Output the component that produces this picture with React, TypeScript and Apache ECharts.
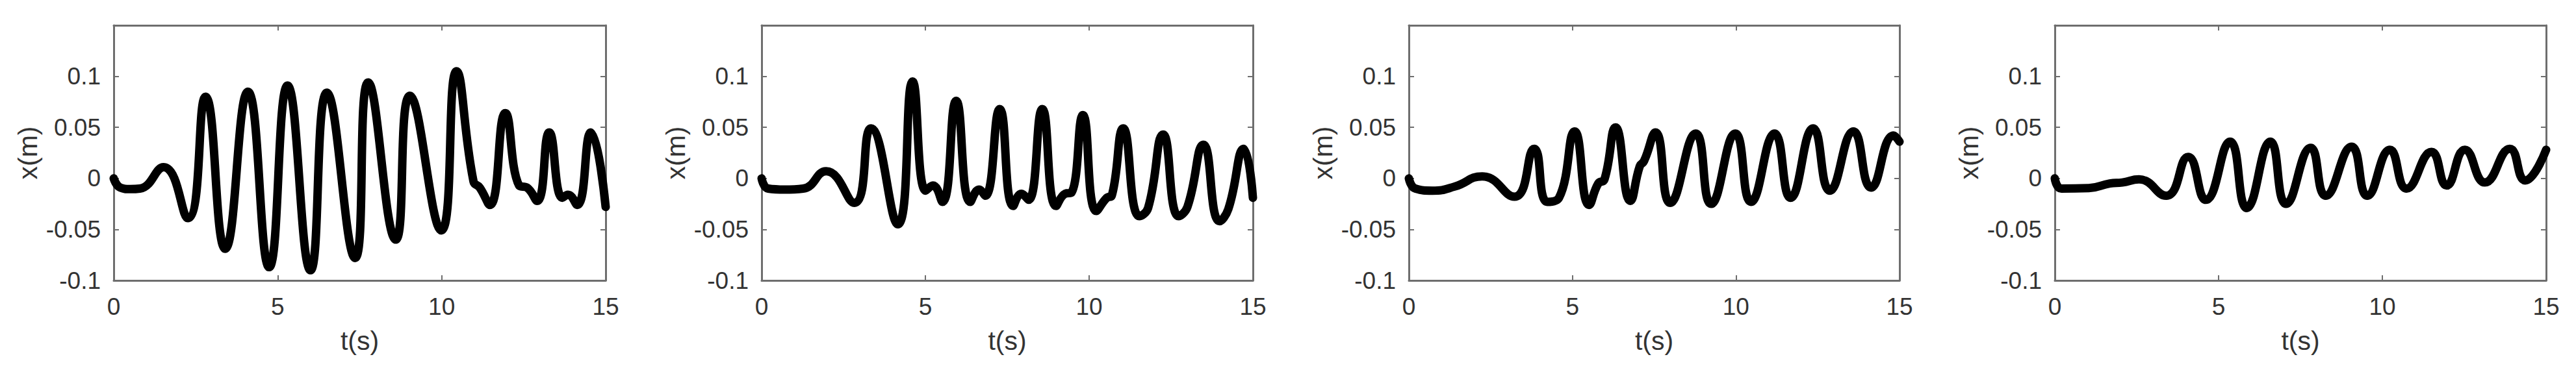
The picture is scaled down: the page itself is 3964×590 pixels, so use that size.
import React, { useEffect, useRef } from "react";
import * as echarts from "echarts";

// ---- data ----
const T1 = [0, 0.2, 0.5, 0.8, 1.52, 2.26, 2.8, 3.4, 4.09, 4.74, 5.3, 6.0, 6.5, 7.36, 7.76, 8.6, 9.03, 9.99, 10.45, 10.97, 11.16, 11.47, 11.94, 12.36, 12.6, 12.91, 13.28, 13.68, 13.85, 14.13, 14.55, 15];
const X1 = [0, -0.009, -0.0105, -0.01, 0.011, -0.039, 0.08, -0.069, 0.085, -0.087, 0.091, -0.09, 0.084, -0.078, 0.094, -0.06, 0.081, -0.051, 0.105, -0.003, -0.009, -0.026, 0.064, -0.007, -0.009, -0.022, 0.045, -0.019, -0.016, -0.026, 0.045, -0.028];

const T2 = [0, 0.2, 0.7, 1.27, 1.97, 2.83, 3.34, 4.16, 4.61, 5.01, 5.23, 5.52, 5.94, 6.37, 6.64, 6.83, 7.27, 7.68, 7.93, 8.15, 8.57, 8.99, 9.27, 9.46, 9.81, 10.22, 10.54, 10.69, 11.04, 11.53, 11.8, 12.26, 12.73, 13.0, 13.49, 13.98, 14.25, 14.72, 15];
const X2 = [0, -0.01, -0.011, -0.01, 0.007, -0.024, 0.049, -0.045, 0.095, -0.012, -0.007, -0.023, 0.076, -0.023, -0.011, -0.017, 0.068, -0.027, -0.015, -0.021, 0.068, -0.027, -0.015, -0.014, 0.062, -0.032, -0.019, -0.017, 0.049, -0.037, -0.029, 0.043, -0.037, -0.028, 0.033, -0.042, -0.03, 0.029, -0.019];

const T3 = [0, 0.2, 0.72, 1.4, 2.24, 3.23, 3.83, 4.23, 4.59, 5.07, 5.51, 5.79, 5.98, 6.32, 6.77, 7.06, 7.19, 7.54, 7.99, 8.77, 9.24, 9.98, 10.46, 11.18, 11.67, 12.36, 12.87, 13.59, 14.13, 14.82, 15];
const X3 = [0, -0.01, -0.012, -0.008, 0.002, -0.018, 0.029, -0.023, -0.019, 0.046, -0.026, -0.005, -0.001, 0.05, -0.022, 0.012, 0.017, 0.045, -0.024, 0.044, -0.025, 0.044, -0.023, 0.044, -0.019, 0.049, -0.012, 0.046, -0.009, 0.042, 0.036];

const T4 = [0, 0.2, 1.04, 1.68, 2.06, 2.57, 3.4, 4.07, 4.61, 5.35, 5.86, 6.58, 7.06, 7.81, 8.27, 9.06, 9.54, 10.23, 10.74, 11.5, 11.96, 12.52, 13.13, 13.89, 14.36, 15];
const X4 = [0, -0.01, -0.0095, -0.005, -0.004, -0.001, -0.017, 0.021, -0.021, 0.036, -0.029, 0.036, -0.025, 0.03, -0.017, 0.031, -0.017, 0.028, -0.01, 0.026, -0.007, 0.028, -0.004, 0.029, -0.002, 0.028];

const X_TICKS = [0, 5, 10, 15];
const X_TICK_LABELS = ["0", "5", "10", "15"];
const Y_TICKS = [-0.1, -0.05, 0, 0.05, 0.1];
const Y_TICK_LABELS = ["-0.1", "-0.05", "0", "0.05", "0.1"];
const X_NAME = "t(s)";
const Y_NAME = "x(m)";

const PANELS = [
  { t: T1, x: X1 },
  { t: T2, x: X2 },
  { t: T3, x: X3 },
  { t: T4, x: X4 },
];

// ---- layout / style ----
const LEFTS = [175, 1172, 2168, 3162];
const WIDTHS = [757, 756, 755, 756];
const TOP = 39;
const HEIGHT = 393;
const AXIS_COLOR = "#6e6e6e";
const TEXT_COLOR = "#333333";
const FONT = "'Liberation Sans', Arial, Helvetica, sans-serif";

function labelFor(ticks: number[], labels: string[]) {
  return (v: number) => {
    for (let i = 0; i < ticks.length; i++) {
      if (Math.abs(v - ticks[i]) < 1e-9) return labels[i];
    }
    return "";
  };
}

export default function App() {
  const ref = useRef<HTMLDivElement>(null);
  useEffect(() => {
    if (!ref.current) return;
    const chart = echarts.init(ref.current, undefined, { renderer: "svg" });
    const grid: any[] = [];
    const xAxis: any[] = [];
    const yAxis: any[] = [];
    const series: any[] = [];
    const axisLine = { show: true, onZero: false, lineStyle: { color: AXIS_COLOR, width: 3 } };
    const axisTick = { show: true, inside: true, length: 8, lineStyle: { color: AXIS_COLOR, width: 2 } };
    PANELS.forEach((p, i) => {
      grid.push({ left: LEFTS[i], top: TOP, width: WIDTHS[i], height: HEIGHT });
      xAxis.push({
        gridIndex: i, type: "value", min: 0, max: 15, interval: 5, position: "bottom",
        name: X_NAME, nameLocation: "middle", nameGap: 72,
        nameTextStyle: { fontSize: 41, color: TEXT_COLOR, fontFamily: FONT },
        axisLine, axisTick,
        axisLabel: { fontSize: 37, color: TEXT_COLOR, fontFamily: FONT, margin: 22, formatter: labelFor(X_TICKS, X_TICK_LABELS) },
        splitLine: { show: false },
      });
      xAxis.push({
        gridIndex: i, type: "value", min: 0, max: 15, interval: 5, position: "top",
        axisLine, axisTick, axisLabel: { show: false }, splitLine: { show: false },
      });
      yAxis.push({
        gridIndex: i, type: "value", min: -0.1, max: 0.15, interval: 0.05, position: "left",
        name: Y_NAME, nameLocation: "middle", nameGap: 112, nameRotate: 90,
        nameTextStyle: { fontSize: 41, color: TEXT_COLOR, fontFamily: FONT },
        axisLine, axisTick,
        axisLabel: { fontSize: 37, color: TEXT_COLOR, fontFamily: FONT, margin: 20, formatter: labelFor(Y_TICKS, Y_TICK_LABELS) },
        splitLine: { show: false },
      });
      yAxis.push({
        gridIndex: i, type: "value", min: -0.1, max: 0.15, interval: 0.05, position: "right",
        axisLine, axisTick, axisLabel: { show: false }, splitLine: { show: false },
      });
      series.push({
        type: "line", xAxisIndex: 2 * i, yAxisIndex: 2 * i,
        data: p.t.map((t, j) => [t, p.x[j]]),
        showSymbol: false, smooth: 0.5, clip: false,
        lineStyle: { color: "#000000", width: 13, cap: "round", join: "round" },
        z: 5,
      });
    });
    chart.setOption({
      animation: false,
      backgroundColor: "#ffffff",
      grid, xAxis, yAxis, series,
    });
    return () => chart.dispose();
  }, []);
  return (
    <div
      ref={ref}
      style={{ position: "fixed", left: 0, top: 0, width: 3964, height: 590, background: "#fff" }}
    />
  );
}
